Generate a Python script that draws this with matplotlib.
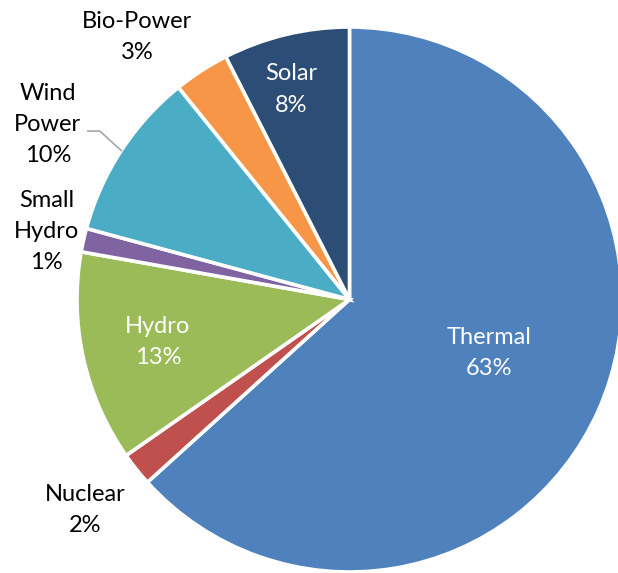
import numpy as np
import matplotlib.pyplot as plt

# ============================================================
# 数据
# ============================================================
labels = ['Thermal', 'Nuclear', 'Hydro', 'Small\nHydro', 'Wind\nPower', 'Bio-Power', 'Solar']
shares = [63.3, 2.0, 12.5, 1.4, 10.0, 3.3, 7.5]
pct_text = ['63%', '2%', '13%', '1%', '10%', '3%', '8%']
colors = ['#4F81BD', '#C0504D', '#9BBB59', '#8064A2', '#4BACC6', '#F79646', '#2C4D75']

# label placement: (radius, angle tweak in deg, text colour)
label_pos = [
    (0.55, 3, 'white'),
    (1.24, 0, 'black'),
    (0.72, 0, 'white'),
    (1.14, 0, 'black'),
    (1.28, 3, 'black'),
    (1.24, 6, 'black'),
    (0.80, 2, 'white'),
]

plt.rcParams['font.family'] = ['Lato', 'DejaVu Sans']

fig = plt.figure(figsize=(6.18, 5.73), dpi=100)
ax = fig.add_axes([0, 0, 1, 1])

wedges, _ = ax.pie(shares, colors=colors, startangle=90, counterclock=False,
                   wedgeprops=dict(edgecolor='white', linewidth=2.6))

for w, lab, pct, (r, dth, col) in zip(wedges, labels, pct_text, label_pos):
    mid = np.deg2rad((w.theta1 + w.theta2) / 2 + dth)
    ax.text(r * np.cos(mid), r * np.sin(mid), f'{lab}\n{pct}', ha='center', va='center',
            color=col, fontsize=17, linespacing=1.6)

# leader line for Wind Power
w = wedges[4]
mid = np.deg2rad((w.theta1 + w.theta2) / 2)
ex, ey = np.cos(mid), np.sin(mid)
ax.plot([-0.96, -0.916, ex], [0.618, 0.618, ey], color='#A6A6A6', lw=1.2)

# 画布映射: 圆心约在 (349.5, 299.5) px, 半径约 272.5 px
ax.set_xlim(-349.5 / 272.5, 268.5 / 272.5)
ax.set_ylim(-273.5 / 272.5, 299.5 / 272.5)
ax.axis('off')

fig.savefig('out.png', dpi=100)
